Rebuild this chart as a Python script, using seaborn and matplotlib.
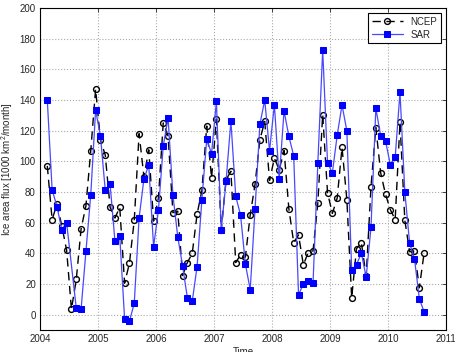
import numpy as np
import pandas as pd
import seaborn as sns
import matplotlib
matplotlib.use("Agg")
import matplotlib.pyplot as plt

# month index (0 = Jan 2004), one value per month, Feb 2004 .. Aug 2010
months = np.arange(1, 80)

ncep = [97, 62, 72, 58, 42, 3.5, 23, 56, 71, 107, 147, 114, 104, 70, 63, 70,
        20.5, 33.5, 61.5, 118, 90, 107.5, 61, 76, 125, 116.5, 66.5, 67.5, 25.5,
        34, 40, 65.5, 81, 123, 89, 127.5, 55, 88, 93.5, 34, 39, 37.5, 65, 85,
        114, 126, 87.5, 102, 94.5, 107, 69, 47, 52, 32.5, 40.5, 41.5, 73, 130.5,
        79.5, 66, 76, 109, 75, 11, 43, 47, 25, 83.5, 122, 92.5, 78.5, 68.5, 62,
        125.5, 61.5, 41, 41.5, 17.5, 40.5]

sar = [140, 81.5, 70.5, 55.5, 60, np.nan, 4.3, 3.7, 41.3, 78.2, 133.3, 116.6,
       81, 85, 48, 51, -2.6, -4.3, 7.4, 63, 88.5, 97.5, 44.3, 68, 110, 128.3,
       78, 50.8, 31.9, 10.9, 8.7, 31.3, 75, 114.4, 105, 139, 55.2, 86.9, 126.4,
       77.2, 65, 33, 16.3, 69, 124, 140, 106.8, 137, 88.3, 132.8, 116.4, 103.5,
       12.9, 20, 21.8, 20.5, 99.2, 172.6, 99.2, 92.4, 117, 136.7, 119.9, 29.2,
       32.7, 40.1, 24.4, 57.1, 134.5, 116.6, 113.4, 97.7, 102.5, 145, 80, 46.4,
       36.4, 10.5, 1.7]

x_ticks = [2004, 2005, 2006, 2007, 2008, 2009, 2010, 2011]
y_ticks = list(range(0, 201, 20))

time = 2004 + (months + 0.5) / 12
ncep_df = pd.DataFrame({"time": time, "flux": ncep}).dropna()
sar_df = pd.DataFrame({"time": time, "flux": sar}).dropna()

sns.set_style("white")
plt.rcParams["font.family"] = ["Liberation Sans", "DejaVu Sans"]
plt.rcParams["mathtext.default"] = "regular"

fig = plt.figure(figsize=(4.55, 3.52), dpi=100)
ax = fig.add_axes([0.088, 0.0625, 0.892, 0.915])

sns.lineplot(data=ncep_df, x="time", y="flux", ax=ax, color="black",
             linestyle=(0, (6, 4)), linewidth=1, marker="o", markersize=4.2,
             markerfacecolor="none", markeredgecolor="black",
             markeredgewidth=1, label="NCEP")
sns.lineplot(data=sar_df, x="time", y="flux", ax=ax, color="#4848ff",
             linewidth=0.9, marker="s", markersize=4.2, markerfacecolor="#0000ff",
             markeredgecolor="#0000ff", label="SAR")

ax.set_xlim(2004, 2011)
ax.set_ylim(-10, 200)
ax.set_xticks(x_ticks)
ax.set_yticks(y_ticks)
ax.set_xticklabels([str(t) for t in x_ticks])
ax.grid(True, linestyle=":", color="#aaaaaa", linewidth=0.8)
ax.tick_params(direction="in", top=True, right=True, labelsize=7,
               length=3, width=0.6, pad=3)
for s in ax.spines.values():
    s.set_color("black")
    s.set_linewidth(0.8)
ax.set_xlabel("Time", fontsize=7, labelpad=2)
ax.set_ylabel("Ice area flux [1000 km$^2$/month]", fontsize=7, labelpad=3)

leg = ax.legend(loc="upper right", fontsize=7, fancybox=False, framealpha=1,
                edgecolor="black", handlelength=3.2, borderpad=0.4,
                labelspacing=0.3)
leg.get_frame().set_linewidth(0.8)

fig.savefig("out.png", dpi=100)
